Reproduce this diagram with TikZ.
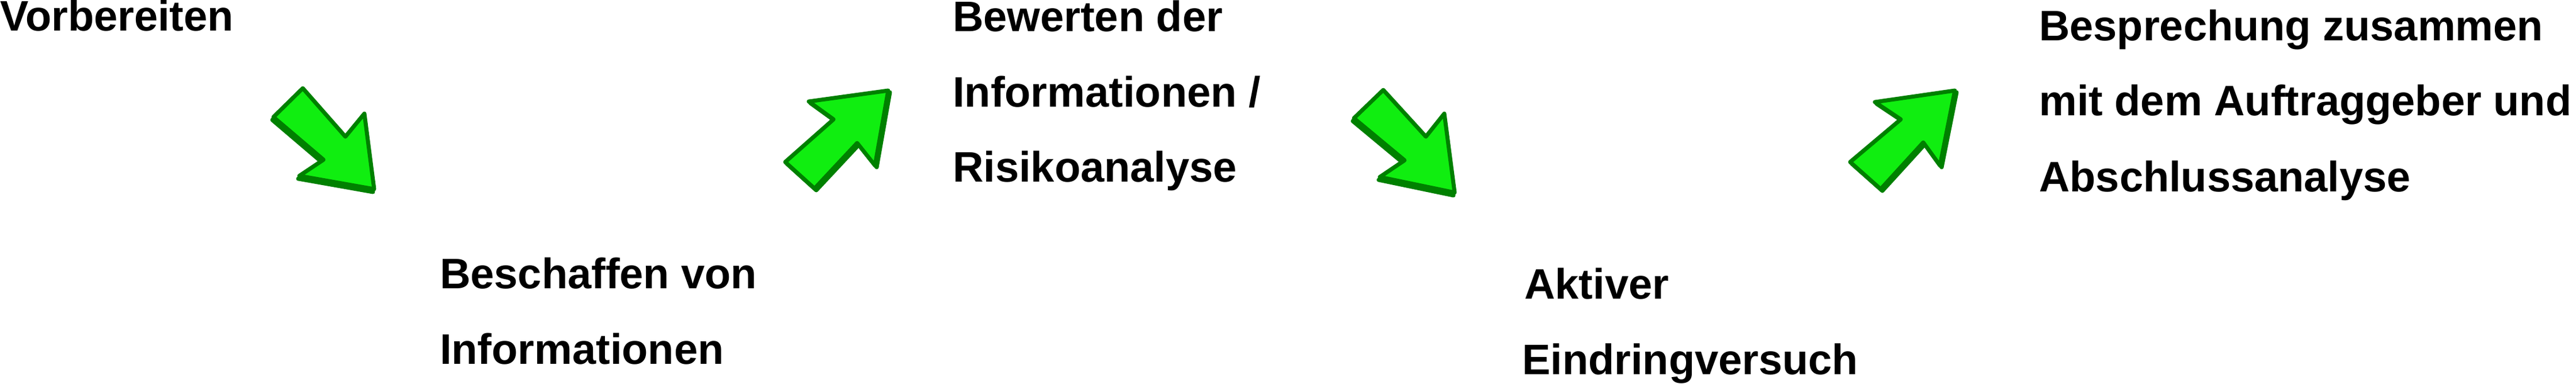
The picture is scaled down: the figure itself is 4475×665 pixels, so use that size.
\documentclass[tikz,border=0pt]{standalone}
\usepackage{fontspec}
\setmainfont{Liberation Sans}
\definecolor{arrowgreen}{RGB}{16,238,16}
\definecolor{arrowdark}{RGB}{0,128,0}
\definecolor{arrowmid}{RGB}{0,200,0}
\begin{document}
\begin{tikzpicture}[x=1pt,y=-1pt,
  lbl/.style={anchor=base west,inner sep=0pt,font=\fontsize{74}{131}\selectfont\bfseries},
  arrowbody/.style={fill=arrowgreen,draw=arrowdark,line width=7pt,line join=round},
  arrowshadow/.style={fill=arrowdark,draw=arrowdark,line width=7pt,line join=round}]
\useasboundingbox (0,0) rectangle (4475,665);

% labels
\node[lbl] (vor) at (0,53) {Vorbereiten};
\node[lbl] (besA) at (764,500) {Beschaffen von};
\node[lbl] (besB) at (764,631) {Informationen};
\node[lbl] (bewA) at (1655,54) {Bewerten der};
\node[lbl] (bewB) at (1655,185) {Informationen /};
\node[lbl] (bewC) at (1655,315) {Risikoanalyse};
\node[lbl] (aktA) at (2648,518) {Aktiver};
\node[lbl] (aktB) at (2644,649) {Eindringversuch};
\node[lbl] (bspA) at (3542,70) {Besprechung zusammen};
\node[lbl] (bspB) at (3542,200) {mit dem Auftraggeber und};
\node[lbl] (bspC) at (3542,332) {Abschlussanalyse};

% arrow 1 (down-right)
\def\arrowA{(526,153) -- (600,237) -- (633,197) -- (650,328) -- (520,305) -- (562,277) -- (475,203) -- cycle}
\begin{scope}[shift={(-2,5)}]
  \path[arrowshadow] (526,153) -- (600,237) -- (633,197) -- (650,328) -- (520,305) -- (562,277) -- (475,203) -- cycle;
\end{scope}
\path[arrowbody] (526,153) -- (600,237) -- (633,197) -- (650,328) -- (520,305) -- (562,277) -- (475,203) -- cycle;

% arrow 2 (up-right)
\begin{scope}[shift={(3,3)}]
  \path[arrowshadow] (1364,281) -- (1415,327) -- (1489,248) -- (1520,287) -- (1543,157) -- (1405,176) -- (1448,207) -- cycle;
\end{scope}
\path[arrowbody] (1364,281) -- (1415,327) -- (1489,248) -- (1520,287) -- (1543,157) -- (1405,176) -- (1448,207) -- cycle;

% arrow 3 (down-right)
\begin{scope}[shift={(-2,5)}]
  \path[arrowshadow] (2403,156) -- (2477,237) -- (2509,197) -- (2527,334) -- (2397,307) -- (2440,278) -- (2352,205) -- cycle;
\end{scope}
\path[arrowbody] (2403,156) -- (2477,237) -- (2509,197) -- (2527,334) -- (2397,307) -- (2440,278) -- (2352,205) -- cycle;

% arrow 4 (up-right)
\begin{scope}[shift={(3,3)}]
  \path[arrowshadow] (3214,281) -- (3267,328) -- (3341,247) -- (3370,287) -- (3396,157) -- (3257,177) -- (3302,207) -- cycle;
\end{scope}
\path[arrowbody] (3214,281) -- (3267,328) -- (3341,247) -- (3370,287) -- (3396,157) -- (3257,177) -- (3302,207) -- cycle;
\end{tikzpicture}
\end{document}
